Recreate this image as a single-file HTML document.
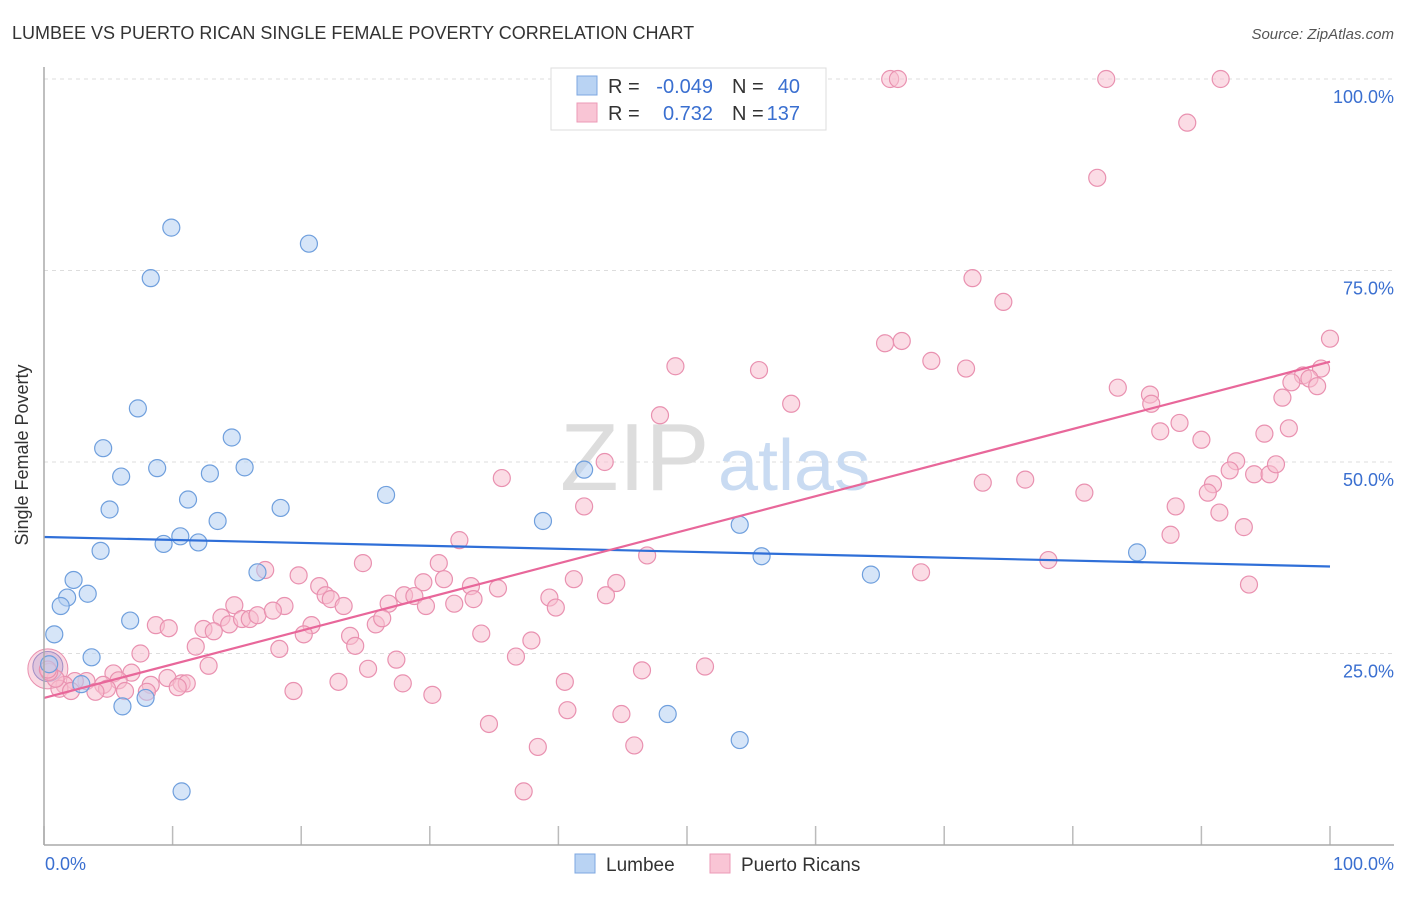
<!DOCTYPE html>
<html><head><meta charset="utf-8"><style>
body{margin:0;background:#fff;font-family:"Liberation Sans",sans-serif;}
svg text{font-family:"Liberation Sans",sans-serif;}
</style></head><body>
<svg width="1406" height="892" xmlns="http://www.w3.org/2000/svg">
<text x="12" y="39" font-size="18" fill="#333">LUMBEE VS PUERTO RICAN SINGLE FEMALE POVERTY CORRELATION CHART</text>
<text x="1394" y="39" font-size="15" fill="#555" text-anchor="end" font-style="italic">Source: ZipAtlas.com</text>
<g id="grid"></g>
<text x="560" y="490" font-size="96" fill="#ddd" font-family="Liberation Serif">ZIP</text>
<text x="718" y="490" font-size="72" fill="#c9dbf2">atlas</text>
<g id="marks"></g>
<line x1="44" y1="67" x2="44" y2="845" stroke="#aaa" stroke-width="1.5"/>
<line x1="44" y1="845" x2="1394" y2="845" stroke="#aaa" stroke-width="1.5"/>
<text x="28" y="455" font-size="18" fill="#333" text-anchor="middle" transform="rotate(-90 28 455)">Single Female Poverty</text>
<text x="45" y="870" font-size="18" fill="#3a6fd0">0.0%</text>
<text x="1394" y="870" font-size="18" fill="#3a6fd0" text-anchor="end">100.0%</text>
<g>
<rect x="551" y="68" width="275" height="62" fill="#fff" stroke="#ddd"/>
<rect x="577" y="76" width="20" height="19" fill="#b9d3f3" stroke="#7da7e0"/>
<rect x="577" y="103" width="20" height="19" fill="#f9c5d5" stroke="#ec9ab7"/>
<text x="608" y="93" font-size="20" fill="#333">R =</text><text x="713" y="93" font-size="20" fill="#3a6fd0" text-anchor="end">-0.049</text>
<text x="732" y="93" font-size="20" fill="#333">N =</text><text x="800" y="93" font-size="20" fill="#3a6fd0" text-anchor="end">40</text>
<text x="608" y="120" font-size="20" fill="#333">R =</text><text x="713" y="120" font-size="20" fill="#3a6fd0" text-anchor="end">0.732</text>
<text x="732" y="120" font-size="20" fill="#333">N =</text><text x="800" y="120" font-size="20" fill="#3a6fd0" text-anchor="end">137</text>
</g>
<g><rect x="575" y="854" width="20" height="19" fill="#b9d3f3" stroke="#7da7e0"/><text x="606" y="871" font-size="19" fill="#333">Lumbee</text></g>
<g><rect x="710" y="854" width="20" height="19" fill="#f9c5d5" stroke="#ec9ab7"/><text x="741" y="871" font-size="19" fill="#333">Puerto Ricans</text></g>
</svg>
<script>
const yTicks=[25,50,75,100];
const xTicks=[0,10,20,30,40,50,60,70,80,90,100];
const blueX=[9.9,20.6,8.3,7.3,4.6,14.6,8.8,12.9,15.6,6.0,5.1,11.2,26.6,18.4,13.5,38.8,42.0,9.3,10.6,12.0,4.4,54.1,55.8,2.3,1.8,3.4,1.3,16.6,64.3,85.0,0.8,6.7,3.7,0.4,2.9,6.1,7.9,48.5,54.1,10.7];
const blueY=[80.6,78.5,74.0,57.0,51.8,53.2,49.2,48.5,49.3,48.1,43.8,45.1,45.7,44.0,42.3,42.3,49.0,39.3,40.3,39.5,38.4,41.8,37.7,34.6,32.3,32.8,31.2,35.6,35.3,38.2,27.5,29.3,24.5,23.6,21.0,18.1,19.2,17.1,13.7,7.0];
const pinkX=[65.8,66.4,82.6,91.5,88.9,81.9,72.2,74.6,100,66.7,65.4,69.0,71.7,49.1,55.6,99.3,97.9,98.4,97.0,99.0,83.5,86.0,86.1,96.3,58.1,47.9,88.3,86.8,96.8,94.9,90.0,92.7,92.2,94.1,95.3,95.8,90.9,43.6,35.6,73.0,76.3,80.9,90.5,88.0,42.0,91.4,93.3,87.6,32.3,46.9,78.1,68.2,93.7,24.8,30.7,41.2,44.5,31.1,35.3,33.2,29.5,19.8,17.2,21.4,21.9,22.3,23.3,26.8,28.0,28.8,29.7,33.4,31.9,39.3,39.8,43.7,14.8,13.8,12.4,14.4,15.4,16.0,16.6,18.7,17.8,13.2,8.7,9.7,20.8,20.2,23.8,24.2,25.8,26.3,34.0,37.9,11.8,18.3,7.5,27.4,25.2,12.8,6.8,9.6,10.7,11.1,8.3,10.4,5.4,5.8,4.6,3.3,4.9,4.0,6.3,2.4,1.6,1.2,2.1,0.9,0.4,0.3,19.4,22.9,27.9,30.2,36.7,40.5,46.5,51.4,40.7,34.6,44.9,38.4,45.9,37.3,8.0];
const pinkY=[100,100,100,100,94.3,87.1,74.0,70.9,66.1,65.8,65.5,63.2,62.2,62.5,62.0,62.2,61.3,60.9,60.4,59.9,59.7,58.8,57.6,58.4,57.6,56.1,55.1,54.0,54.4,53.7,52.9,50.1,48.9,48.4,48.4,49.7,47.1,50.0,47.9,47.3,47.7,46.0,46.0,44.2,44.2,43.4,41.5,40.5,39.8,37.8,37.2,35.6,34.0,36.8,36.8,34.7,34.2,34.7,33.5,33.8,34.3,35.2,35.9,33.8,32.6,32.1,31.2,31.5,32.6,32.5,31.2,32.1,31.5,32.3,31.0,32.6,31.3,29.7,28.2,28.8,29.5,29.5,30.0,31.2,30.6,27.9,28.7,28.3,28.7,27.5,27.3,26.0,28.8,29.6,27.6,26.7,25.9,25.6,25.0,24.2,23.0,23.4,22.5,21.8,21.1,21.1,20.9,20.6,22.4,21.5,20.9,21.4,20.4,20.0,20.1,21.4,20.9,20.4,20.1,21.7,22.6,22.9,20.1,21.3,21.1,19.6,24.6,21.3,22.8,23.3,17.6,15.8,17.1,12.8,13.0,7.0,20.0];
const X0=44,X1=1330,Y0=845,Y100=79;
const sx=v=>X0+(X1-X0)*v/100, sy=v=>Y0-(Y0-Y100)*v/100;
const NS='http://www.w3.org/2000/svg';
const grid=document.getElementById('grid'), marks=document.getElementById('marks');
function mk(tag,attrs,parent){const e=document.createElementNS(NS,tag);for(const k in attrs)e.setAttribute(k,attrs[k]);parent.appendChild(e);return e;}
yTicks.forEach(t=>{
 const l=mk('line',{x1:44,x2:1394,y1:sy(t),y2:sy(t),stroke:'#ddd','stroke-dasharray':'4 4'},grid);
 
 
 const tx=mk('text',{x:1394,y:sy(t)+24,'font-size':18,fill:'#3a6fd0','text-anchor':'end'},grid);
 tx.textContent=t.toFixed(1)+'%';
 
 
});
xTicks.forEach(t=>{
 const l=mk('line',{x1:sx(t),x2:sx(t),y1:826,y2:845,stroke:'#bbb','stroke-width':1.5},grid);
 
 
});
function dots(xs,ys,fill,stroke,name){
 xs.forEach((x,i)=>{
  const c=mk('circle',{cx:sx(x),cy:sy(ys[i]),r:8.5,fill:fill,'fill-opacity':0.55,stroke:stroke,'stroke-width':1.2},marks);
  
  
 });
}
// large bubbles near origin
const b1=mk('circle',{cx:sx(0.3),cy:sy(23),r:20,fill:'#f5b3c8','fill-opacity':0.5,stroke:'#e98fae'},marks);


const b2=mk('circle',{cx:sx(0.3),cy:sy(23.3),r:15,fill:'#c5b0d5','fill-opacity':0.5,stroke:'#a08ec5'},marks);


dots(pinkX,pinkY,'#f7bfd0','#e991b0','pink-point');
dots(blueX,blueY,'#b5d0f2','#6f9fdd','blue-point');
function fit(xs,ys){const n=xs.length;let mx=0,my=0;xs.forEach((x,i)=>{mx+=x;my+=ys[i];});mx/=n;my/=n;let a=0,b=0;xs.forEach((x,i)=>{a+=(x-mx)*(ys[i]-my);b+=(x-mx)*(x-mx);});const s=a/b;return [my-s*mx,my+s*(100-mx)];}
const bl=fit(blueX,blueY), pl=fit(pinkX,pinkY);
const l1=mk('line',{x1:sx(0),y1:sy(bl[0]),x2:sx(100),y2:sy(bl[1]),stroke:'#2f6fd8','stroke-width':2.2},marks);


const l2=mk('line',{x1:sx(0),y1:sy(pl[0]),x2:sx(100),y2:sy(pl[1]),stroke:'#e8679a','stroke-width':2.2},marks);


</script>
</body></html>
